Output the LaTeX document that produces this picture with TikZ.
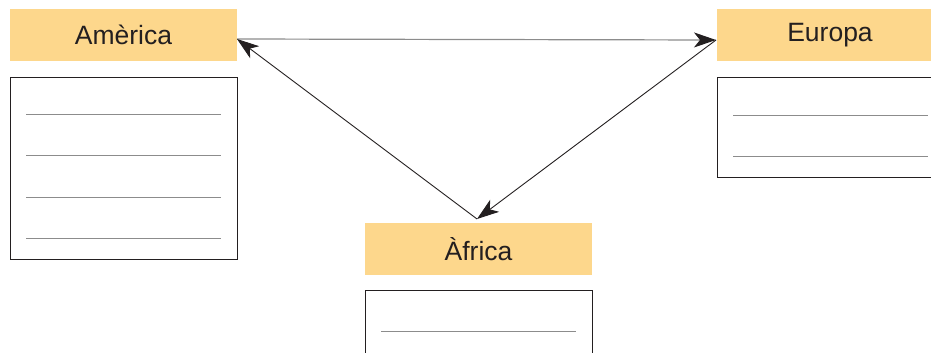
\documentclass[tikz,border=0pt]{standalone}
\usepackage{fontspec}
\setmainfont{Liberation Sans}
\usetikzlibrary{arrows.meta}
\definecolor{hdr}{HTML}{FDD78C}
\definecolor{ink}{HTML}{231F20}
\definecolor{rule}{HTML}{8C8C8C}
\begin{document}
\begin{tikzpicture}[x=1pt,y=-1pt,
  header/.style={fill=hdr,draw=none,minimum width=227pt,minimum height=52pt,inner sep=0pt,
    font=\fontsize{26.5}{30}\selectfont,text=ink},
  answerbox/.style={draw=ink,line width=1pt,fill=white},
  wline/.style={draw=rule,line width=1pt},
  conn/.style={draw=ink,line width=0.9pt,-{Stealth[length=22pt,width=15pt,inset=6pt,fill=ink,color=ink]}}]
\useasboundingbox (0,0) rectangle (931,353);
% headers
\node[header] (am) at (123.5,35) {Amèrica};
\node[header,minimum width=240pt] (eu) at (837,35) {};
\node[text=ink,font=\fontsize{26.5}{30}\selectfont] (eut) at (830,35) {Europa};
\node[header] (af) at (478.5,249) {Àfrica};
% answer boxes
\draw[answerbox] (10,77) rectangle (237,259);
\foreach \yy in {114,155,197,238} \draw[wline] (26,\yy) -- (221,\yy);
\draw[answerbox] (940,77) -- (717,77) -- (717,177) -- (940,177);
\foreach \yy in {115,156} \draw[wline] (733,\yy) -- (928,\yy);
\draw[answerbox] (365,360) -- (365,290) -- (592,290) -- (592,360);
\draw[wline] (381,331) -- (576,331);
% connectors
\coordinate (amR) at (237,39);
\coordinate (euL) at (716,40);
\coordinate (afT) at (477,219);
\draw[conn,draw=rule,line width=1.2pt] (amR) -- (euL);
\draw[conn] (euL) -- (afT);
\draw[conn] (afT) -- (amR);
\end{tikzpicture}
\end{document}
